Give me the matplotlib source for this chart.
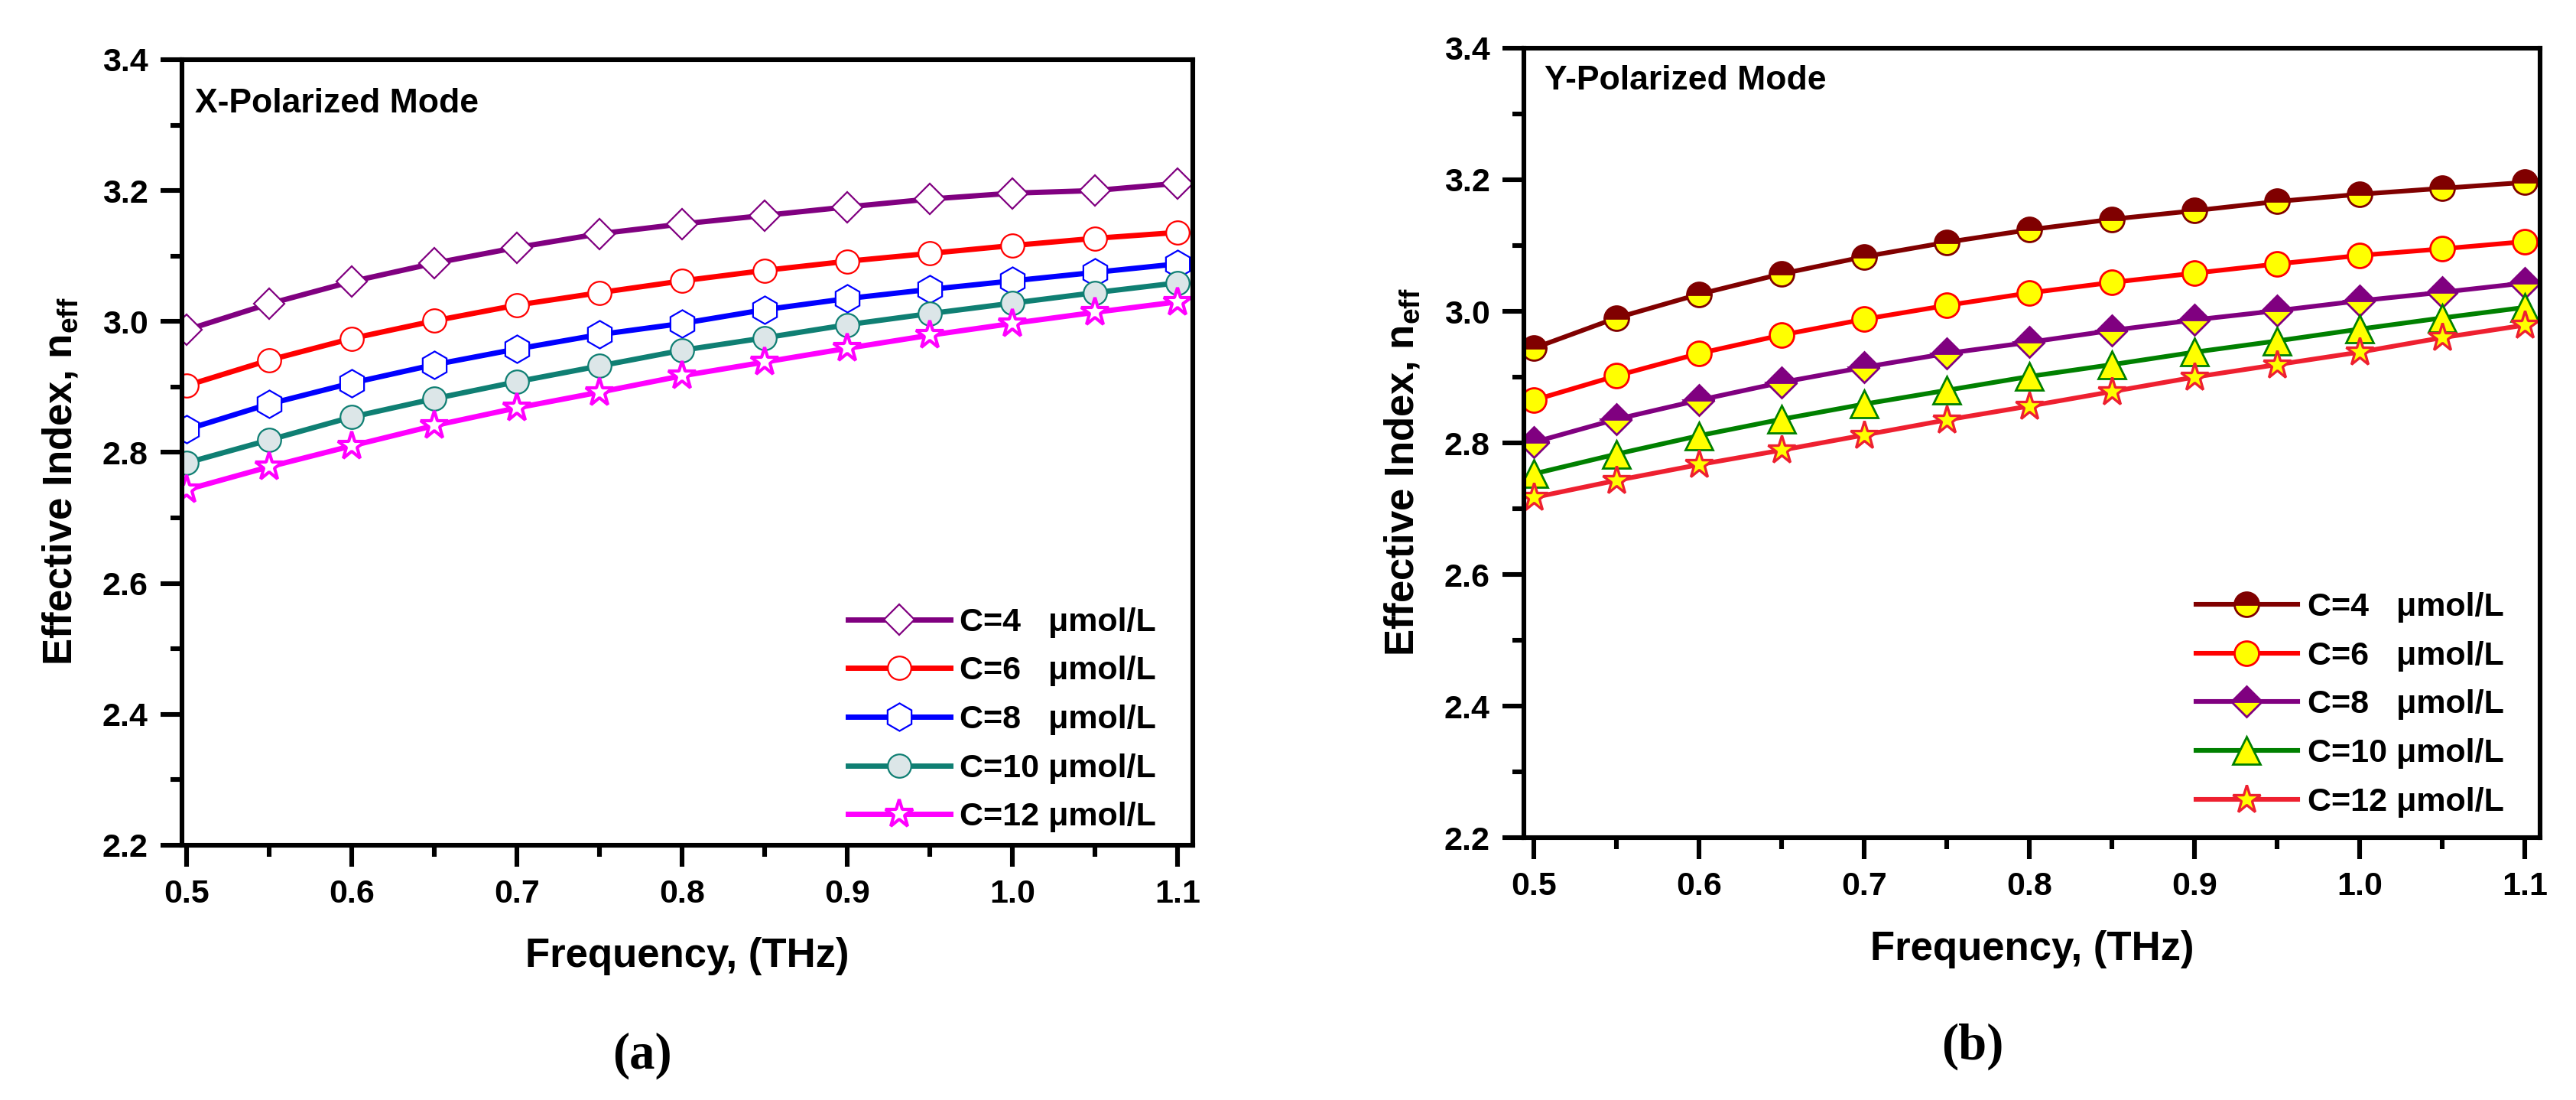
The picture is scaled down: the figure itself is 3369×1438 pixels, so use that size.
import numpy as np
import matplotlib
matplotlib.use('Agg')
import matplotlib.pyplot as plt
from matplotlib.ticker import MultipleLocator, FormatStrFormatter

plt.rcParams['font.family'] = ['Liberation Sans', 'DejaVu Sans']
plt.rcParams['font.weight'] = 'bold'
plt.rcParams['mathtext.fontset'] = 'custom'
plt.rcParams['mathtext.rm'] = 'Liberation Sans:bold'
plt.rcParams['mathtext.bf'] = 'Liberation Sans:bold'

# Data
freq = [0.5, 0.55, 0.6, 0.65, 0.7, 0.75, 0.8, 0.85, 0.9, 0.95, 1.0, 1.05, 1.1]
labels = ['C=4   \u03bcmol/L', 'C=6   \u03bcmol/L', 'C=8   \u03bcmol/L',
          'C=10 \u03bcmol/L', 'C=12 \u03bcmol/L']

# (a) X-polarized mode
x_c4 = [2.987, 3.027, 3.061, 3.089, 3.113, 3.134, 3.149, 3.162, 3.175, 3.187, 3.196, 3.200, 3.211]
x_c6 = [2.902, 2.941, 2.974, 3.001, 3.025, 3.044, 3.062, 3.078, 3.092, 3.104, 3.116, 3.127, 3.136]
x_c8 = [2.835, 2.874, 2.906, 2.934, 2.958, 2.980, 2.997, 3.018, 3.035, 3.049, 3.062, 3.075, 3.088]
x_c10 = [2.784, 2.819, 2.854, 2.882, 2.908, 2.932, 2.956, 2.975, 2.995, 3.012, 3.028, 3.044, 3.059]
x_c12 = [2.743, 2.778, 2.810, 2.841, 2.868, 2.892, 2.917, 2.938, 2.959, 2.979, 2.997, 3.014, 3.030]

# (b) Y-polarized mode
y_c4 = [2.944, 2.990, 3.026, 3.057, 3.083, 3.105, 3.124, 3.140, 3.153, 3.167, 3.178, 3.187, 3.196]
y_c6 = [2.865, 2.902, 2.936, 2.964, 2.988, 3.009, 3.028, 3.044, 3.058, 3.072, 3.085, 3.095, 3.106]
y_c8 = [2.801, 2.836, 2.865, 2.892, 2.915, 2.936, 2.953, 2.971, 2.987, 3.001, 3.016, 3.029, 3.043]
y_c10 = [2.753, 2.783, 2.811, 2.836, 2.859, 2.880, 2.901, 2.919, 2.938, 2.955, 2.973, 2.990, 3.006]
y_c12 = [2.717, 2.743, 2.767, 2.789, 2.812, 2.835, 2.856, 2.878, 2.900, 2.919, 2.938, 2.960, 2.979]

fig = plt.figure(figsize=(3369 / 200, 1438 / 200), dpi=200)
ax1 = fig.add_axes([0.0706, 0.2316, 0.3924, 0.7142])
ax2 = fig.add_axes([0.5916, 0.2385, 0.3945, 0.7177])

# left panel: open markers
ax1.plot(freq, x_c4, color='#800080', lw=2.5, marker='D', ms=10, mfc='white', mec='#800080', mew=0.8, label=labels[0])
ax1.plot(freq, x_c6, color='#FF0000', lw=2.5, marker='o', ms=11, mfc='white', mec='#FF0000', mew=0.8, label=labels[1])
ax1.plot(freq, x_c8, color='#0000FF', lw=2.5, marker='h', ms=13, mfc='white', mec='#0000FF', mew=0.8, label=labels[2])
ax1.plot(freq, x_c10, color='#0F7F73', lw=2.5, marker='o', ms=11, mfc='#DCE6E8', mec='#0F7F73', mew=0.8, label=labels[3])
ax1.plot(freq, x_c12, color='#FF00FF', lw=2.5, marker='*', ms=14, mfc='white', mec='#FF00FF', mew=1.5, label=labels[4])

# right panel: half-filled yellow markers
ax2.plot(freq, y_c4, color='#800000', lw=2.2, marker='o', ms=11.5, fillstyle='top', mfc='#800000', mfcalt='#FFFF00', mec='#800000', mew=1.0, label=labels[0])
ax2.plot(freq, y_c6, color='#FF0000', lw=2.2, marker='o', ms=11.5, mfc='#FFFF00', mec='#FF0000', mew=1.0, label=labels[1])
ax2.plot(freq, y_c8, color='#800080', lw=2.2, marker='D', ms=10, fillstyle='top', mfc='#800080', mfcalt='#FFFF00', mec='#800080', mew=1.0, label=labels[2])
ax2.plot(freq, y_c10, color='#008000', lw=2.2, marker='^', ms=13, mfc='#FFFF00', mec='#008000', mew=1.0, label=labels[3])
ax2.plot(freq, y_c12, color='#EE2030', lw=2.2, marker='*', ms=14, mfc='#FFFF00', mec='#EE2030', mew=1.2, label=labels[4])

titles = ['X-Polarized Mode', 'Y-Polarized Mode']
title_pos = [(0.013, 0.933), (0.020, 0.948)]
legend_pos = [(0.659, 0.303), (0.661, 0.311)]
xlims = [(0.4972, 1.1093), (0.494, 1.1093)]

for ax, t, tp, lp, xl in zip([ax1, ax2], titles, title_pos, legend_pos, xlims):
    ax.set_xlim(*xl)
    ax.set_ylim(2.2, 3.4)
    ax.xaxis.set_major_locator(MultipleLocator(0.1))
    ax.xaxis.set_minor_locator(MultipleLocator(0.05))
    ax.yaxis.set_major_locator(MultipleLocator(0.2))
    ax.yaxis.set_minor_locator(MultipleLocator(0.1))
    ax.xaxis.set_major_formatter(FormatStrFormatter('%.1f'))
    ax.yaxis.set_major_formatter(FormatStrFormatter('%.1f'))
    for s in ax.spines.values():
        s.set_linewidth(2.2)
    ax.tick_params(which='major', direction='out', length=10, width=2.2, labelsize=15.5, pad=6,
                   top=False, right=False)
    ax.tick_params(which='minor', direction='out', length=5.5, width=2.2, top=False, right=False)
    ax.set_xlabel('Frequency, (THz)', fontsize=19, fontweight='bold')
    ax.set_ylabel(r'Effective Index, n$_{\mathrm{eff}}$', fontsize=19, fontweight='bold')
    ax.xaxis.set_label_coords(0.5, -0.117)
    ax.yaxis.set_label_coords(-0.10, 0.463)
    ax.text(tp[0], tp[1], t, transform=ax.transAxes, fontsize=16, fontweight='bold',
            ha='left', va='baseline')
    ax.legend(loc='upper left', bbox_to_anchor=lp, frameon=False,
              handlelength=3.1, handletextpad=0.3, labelspacing=0.55,
              borderpad=0, borderaxespad=0, prop={'weight': 'bold', 'size': 15.5})

fig.text(840 / 3369, 1 - 1380 / 1438, '(a)', ha='center', va='center',
         fontsize=24, family='Liberation Serif', fontweight='bold')
fig.text(2580 / 3369, 1 - 1368 / 1438, '(b)', ha='center', va='center',
         fontsize=24, family='Liberation Serif', fontweight='bold')

fig.savefig('out.png', dpi=200, facecolor='white')
